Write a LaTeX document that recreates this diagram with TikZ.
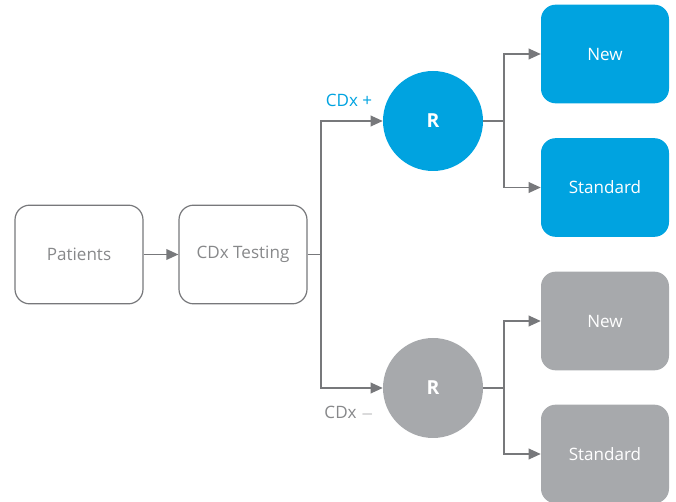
\documentclass[tikz,border=0pt]{standalone}
\usepackage{fontspec}
\setmainfont{Open Sans}
\usepackage{tikz}
\usetikzlibrary{arrows.meta,positioning,calc}
\definecolor{cdxblue}{RGB}{0,163,224}
\definecolor{cdxgrey}{RGB}{167,169,172}
\definecolor{linegrey}{RGB}{119,120,123}
\definecolor{textgrey}{RGB}{135,136,138}

\begin{document}
\begin{tikzpicture}[x=0.75pt, y=-0.75pt,
  stage/.style={draw=linegrey, line width=0.9pt, rounded corners=11pt, minimum width=96pt,
    minimum height=74pt, text=textgrey, font=\fontsize{12.8}{15}\selectfont},
  arm/.style={rounded corners=11pt, minimum width=96pt, minimum height=74pt,
    text=white, font=\fontsize{12.8}{15}\selectfont},
  rand/.style={circle, minimum size=75pt, text=white,
    font=\fontsize{14.5}{17}\selectfont\bfseries},
  arr/.style={-{Triangle[length=9pt,width=8pt]}, linegrey, line width=1pt},
  ln/.style={linegrey, line width=1pt}
]
\useasboundingbox (0,0) rectangle (676,502);
\node[stage] (pat) at (79,254.5) {Patients};
\node[stage] (test) at (243,254.5) {CDx Testing};
\node[rand, fill=cdxblue] (rpos) at (433,121) {R};
\node[rand, fill=cdxgrey] (rneg) at (433,388) {R};
\node[arm, fill=cdxblue] (newpos) at (605,54) {New};
\node[arm, fill=cdxblue] (stdpos) at (605,187.5) {Standard};
\node[arm, fill=cdxgrey] (newneg) at (605,321) {New};
\node[arm, fill=cdxgrey] (stdneg) at (605,454) {Standard};
\node[text=cdxblue, font=\fontsize{12.8}{15}\selectfont] (lpos) at (349,100) {CDx +};
\node[text=textgrey, font=\fontsize{12.8}{15}\selectfont] (lneg) at (349,413) {CDx $-$};

% junctions
\coordinate (split) at (321,254.5);
\coordinate (splitpos) at (504,121);
\coordinate (splitneg) at (504,388);

\draw[arr] (pat) -- (test);
\draw[ln] (test) -- (split);
\draw[arr] (split) |- (rpos);
\draw[arr] (split) |- (rneg);
\draw[ln] (rpos) -- (splitpos);
\draw[arr] (splitpos) |- (newpos);
\draw[arr] (splitpos) |- (stdpos);
\draw[ln] (rneg) -- (splitneg);
\draw[arr] (splitneg) |- (newneg);
\draw[arr] (splitneg) |- (stdneg);
\end{tikzpicture}
\end{document}
